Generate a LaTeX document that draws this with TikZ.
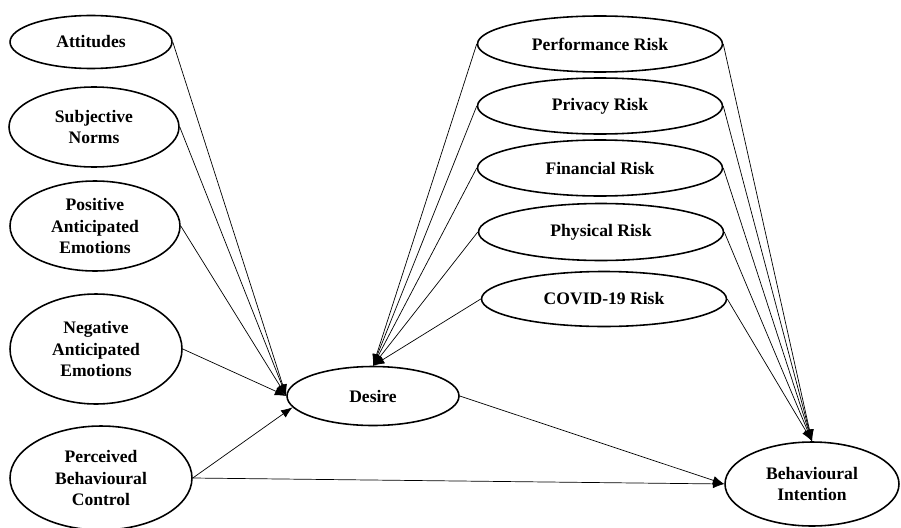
\documentclass[tikz,border=0pt]{standalone}
\usepackage{fontspec}
\setmainfont{Liberation Serif}
\usetikzlibrary{arrows.meta,shapes.geometric}

\begin{document}
\begin{tikzpicture}[x=0.02cm,y=-0.02cm,
  construct/.style={ellipse,draw=black,line width=0.9pt,inner sep=0pt,align=center,
    font=\fontsize{10}{12}\selectfont\bfseries},
  path/.style={-{Latex[length=6.5pt,width=5pt]},line width=0.4pt}]
\useasboundingbox (0,0) rectangle (901,527);
% left column
\node[construct,minimum width=3.24cm,minimum height=1.06cm] (att) at (91,42) {Attitudes};
\node[construct,minimum width=3.40cm,minimum height=1.60cm] (sn) at (94,127) {Subjective\\Norms};
\node[construct,minimum width=3.40cm,minimum height=1.80cm] (pae) at (95,226) {Positive\\Anticipated\\Emotions};
\node[construct,minimum width=3.44cm,minimum height=2.20cm] (nae) at (96,349) {Negative\\Anticipated\\Emotions};
\node[construct,minimum width=3.64cm,minimum height=2.08cm] (pbc) at (101,478) {Perceived\\Behavioural\\Control};
% risks
\node[construct,minimum width=4.90cm,minimum height=1.12cm] (perf) at (600,44) {Performance Risk};
\node[construct,minimum width=4.90cm,minimum height=1.12cm] (priv) at (600,106) {Privacy Risk};
\node[construct,minimum width=4.90cm,minimum height=1.12cm] (fin) at (600,168) {Financial Risk};
\node[construct,minimum width=4.90cm,minimum height=1.14cm] (phys) at (601,232) {Physical Risk};
\node[construct,minimum width=4.90cm,minimum height=1.10cm] (cov) at (604,299) {COVID-19 Risk};
% outcomes
\node[construct,minimum width=3.44cm,minimum height=1.18cm] (des) at (373,396) {Desire};
\node[construct,minimum width=3.48cm,minimum height=1.68cm] (bi) at (812,484) {Behavioural\\Intention};
% paths to desire
\foreach \src in {att,sn,pae,nae}
  \draw[path] (\src.east) -- (des.west);
\draw[path] (pbc.east) -- (des.188);
\foreach \src in {perf,priv,fin,phys,cov}
  \draw[path] (\src.west) -- (des.north);
% paths to intention
\foreach \src in {perf,priv,fin,phys,cov}
  \draw[path] (\src.east) -- (bi.north);
\draw[path] (des.east) -- (bi.west);
\draw[path] (pbc.east) -- (bi.west);
\end{tikzpicture}
\end{document}
